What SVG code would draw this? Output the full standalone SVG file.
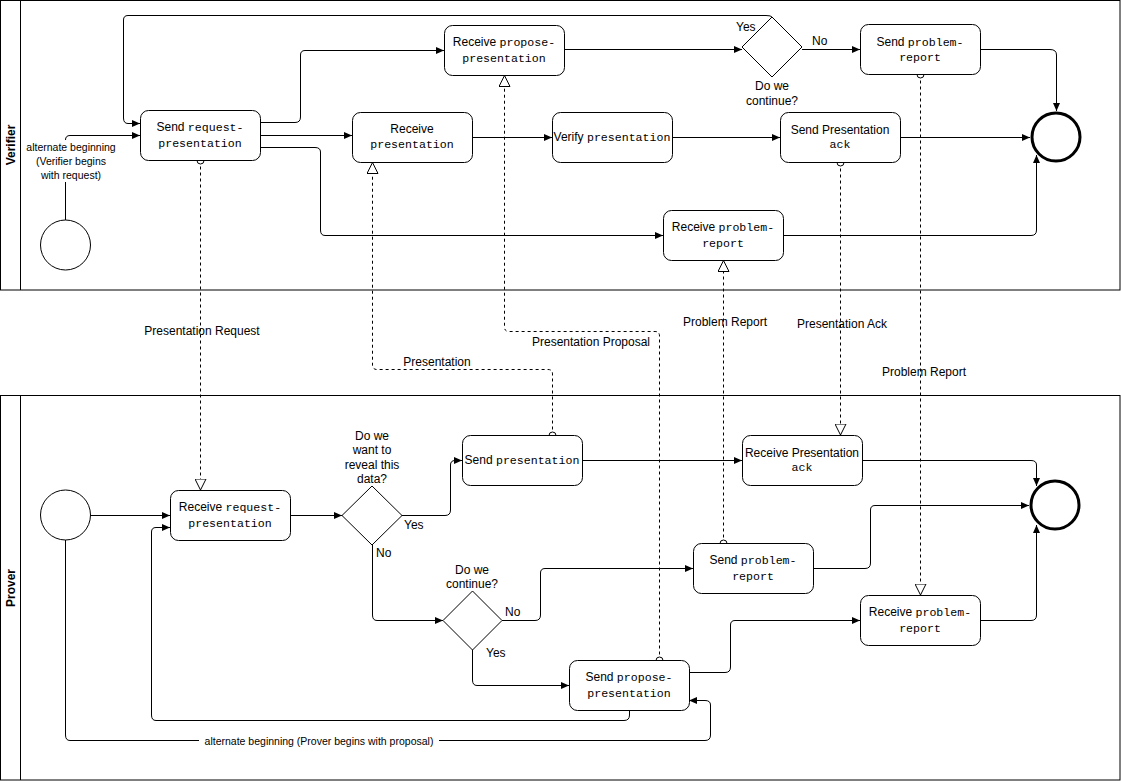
<svg xmlns="http://www.w3.org/2000/svg" width="1121" height="781" viewBox="0 0 1121 781">
<style>
  text { font-family: "Liberation Sans", Arial, sans-serif; font-size: 12px; fill: #000; }
  .m { font-family: "Liberation Mono", "Courier New", monospace; font-size: 11.6px; }
  .c { text-anchor: middle; }
  .small { font-size: 10.5px; }
  .hdr { font-weight: bold; font-size: 12px; }
  .pool { fill: #fff; stroke: #000; stroke-width: 1; }
  .task { fill: #fff; stroke: #000; stroke-width: 1; }
  .gw { fill: #fff; stroke: #000; stroke-width: 1; }
  .start { fill: #fff; stroke: #000; stroke-width: 1; }
  .end { fill: #fff; stroke: #000; stroke-width: 3; }
  .seq { fill: none; stroke: #000; stroke-width: 1; marker-end: url(#arr); }
  .msg { fill: none; stroke: #000; stroke-width: 1; stroke-dasharray: 3 3; marker-start: url(#circ); marker-end: url(#tri); }
</style>
<defs>
  <marker id="arr" viewBox="0 0 10 10" refX="10" refY="5" markerWidth="8" markerHeight="7" markerUnits="userSpaceOnUse" orient="auto" preserveAspectRatio="none">
    <path d="M0,0 L10,5 L0,10 z" fill="#000"/>
  </marker>
  <marker id="tri" viewBox="0 0 12 12" refX="11.5" refY="6" markerWidth="12" markerHeight="12" markerUnits="userSpaceOnUse" orient="auto">
    <path d="M0.5,0.5 L11.5,6 L0.5,11.5 z" fill="#fff" stroke="#000" stroke-width="1"/>
  </marker>
  <marker id="circ" viewBox="0 0 10 10" refX="5" refY="5" markerWidth="10" markerHeight="10" markerUnits="userSpaceOnUse">
    <circle cx="5" cy="5" r="3.5" fill="#fff" stroke="#000" stroke-width="1"/>
  </marker>
</defs>

<rect x="0" y="0" width="1121" height="781" fill="#fff"/>

<!-- Pools -->
<g id="pool-verifier">
  <rect class="pool" x="0.5" y="0.5" width="1119.5" height="289.5"/>
  <line x1="20.5" y1="0.5" x2="20.5" y2="290" stroke="#000"/>
  <text class="hdr c" transform="translate(15,145) rotate(-90)">Verifier</text>
</g>
<g id="pool-prover">
  <rect class="pool" x="0.5" y="395.5" width="1119.5" height="384.5"/>
  <line x1="20.5" y1="395.5" x2="20.5" y2="780" stroke="#000"/>
  <text class="hdr c" transform="translate(15,588) rotate(-90)">Prover</text>
</g>

<!-- Connectors -->
<g id="connectors">
  <!-- Verifier sequence flows -->
  <path class="seq" d="M65.5,220 V140 Q65.5,135.5 70,135.5 H140"/>
  <path class="seq" d="M772,17 Q771,15.5 766,15.5 H128 Q123.5,15.5 123.5,20 V118 Q123.5,123.5 128,123.5 H140"/>
  <path class="seq" d="M260,122.5 H295 Q300.5,122.5 300.5,117 V55 Q300.5,50.5 305,50.5 H444"/>
  <path class="seq" d="M260,135.5 H352"/>
  <path class="seq" d="M260,147.5 H315 Q320.5,147.5 320.5,152 V230 Q320.5,235.5 325,235.5 H663"/>
  <path class="seq" d="M564,49.5 H742"/>
  <path class="seq" d="M802,49.5 H860"/>
  <path class="seq" d="M980,49.5 H1050 Q1056.5,49.5 1056.5,55 V111"/>
  <path class="seq" d="M472,137.5 H552"/>
  <path class="seq" d="M672,137.5 H780"/>
  <path class="seq" d="M900,137.5 H1030"/>
  <path class="seq" d="M783,235.5 H1031 Q1036.5,235.5 1036.5,230 V155"/>

  <!-- Prover sequence flows -->
  <path class="seq" d="M90,515.5 H170"/>
  <path class="seq" d="M290,515.5 H342"/>
  <path class="seq" d="M402,515.5 H445 Q450.5,515.5 450.5,510 V465 Q450.5,460.5 455,460.5 H462"/>
  <path class="seq" d="M372.5,545 V615 Q372.5,620.5 377,620.5 H443"/>
  <path class="seq" d="M502,620.5 H535 Q540.5,620.5 540.5,615 V573 Q540.5,568.5 545,568.5 H693"/>
  <path class="seq" d="M472.5,650 V680 Q472.5,685.5 477,685.5 H569"/>
  <path class="seq" d="M582,460.5 H742"/>
  <path class="seq" d="M862,460.5 H1031 Q1036.5,460.5 1036.5,465 V486"/>
  <path class="seq" d="M813,568.5 H865 Q870.5,568.5 870.5,563 V510 Q870.5,505.5 875,505.5 H1029"/>
  <path class="seq" d="M980,620.5 H1031 Q1036.5,620.5 1036.5,615 V525"/>
  <path class="seq" d="M689,672.5 H725 Q730.5,672.5 730.5,667 V625 Q730.5,620.5 735,620.5 H860"/>
  <path class="seq" d="M629.5,710 V715 Q629.5,720.5 624,720.5 H156 Q151.5,720.5 151.5,715 V532 Q151.5,527.5 156,527.5 H170"/>
  <path class="seq" d="M65.5,540 V735 Q65.5,740.5 70,740.5 H705 Q710.5,740.5 710.5,735 V705 Q710.5,700.5 705,700.5 H689"/>

  <!-- Message flows -->
  <path class="msg" d="M200.5,160.5 V490"/>
  <path class="msg" d="M552.5,435.5 V374 Q552.5,369.5 548,369.5 H377 Q372.5,369.5 372.5,365 V162.5"/>
  <path class="msg" d="M659.5,660.5 V336 Q659.5,331.5 655,331.5 H509 Q504.5,331.5 504.5,327 V75.5"/>
  <path class="msg" d="M723.5,543.5 V260.5"/>
  <path class="msg" d="M840.5,162.5 V435"/>
  <path class="msg" d="M920.5,74.5 V595"/>

  <!-- Connector labels -->
  <rect x="22" y="140" width="98" height="42" fill="#fff"/>
  <text class="small c" x="71" y="151">alternate beginning</text>
  <text class="small c" x="71" y="165">(Verifier begins</text>
  <text class="small c" x="71" y="179">with request)</text>
  <text x="736" y="31">Yes</text>
  <text x="812" y="45">No</text>
  <rect x="199" y="734" width="240" height="13" fill="#fff"/>
  <text class="small c" x="319" y="744.5">alternate beginning (Prover begins with proposal)</text>
  <text x="404" y="529">Yes</text>
  <text x="376" y="557">No</text>
  <text x="505" y="616">No</text>
  <text x="486" y="657">Yes</text>
  <text class="c" x="202" y="335">Presentation Request</text>
  <text class="c" x="437" y="366">Presentation</text>
  <text class="c" x="591" y="346">Presentation Proposal</text>
  <text class="c" x="725" y="326">Problem Report</text>
  <text class="c" x="842" y="328">Presentation Ack</text>
  <text class="c" x="924" y="376">Problem Report</text>
</g>

<!-- Verifier nodes -->
<g id="v-start"><circle class="start" cx="65.5" cy="245" r="25"/></g>
<g id="v-send-request">
  <rect class="task" x="140.5" y="110.5" width="120" height="50" rx="8"/>
  <text class="c" x="200" y="131">Send <tspan class="m">request-</tspan></text>
  <text class="c m" x="200" y="147">presentation</text>
</g>
<g id="v-receive-propose">
  <rect class="task" x="444.5" y="25.5" width="120" height="50" rx="8"/>
  <text class="c" x="504" y="46">Receive <tspan class="m">propose-</tspan></text>
  <text class="c m" x="504" y="62">presentation</text>
</g>
<g id="v-receive-presentation">
  <rect class="task" x="352.5" y="112.5" width="120" height="50" rx="8"/>
  <text class="c" x="412" y="133">Receive</text>
  <text class="c m" x="412" y="148">presentation</text>
</g>
<g id="v-verify">
  <rect class="task" x="552.5" y="112.5" width="120" height="50" rx="8"/>
  <text class="c" x="612" y="141">Verify <tspan class="m">presentation</tspan></text>
</g>
<g id="v-send-ack">
  <rect class="task" x="780.5" y="112.5" width="120" height="50" rx="8"/>
  <text class="c" x="840" y="134">Send Presentation</text>
  <text class="c m" x="840" y="148">ack</text>
</g>
<g id="v-receive-problem">
  <rect class="task" x="663.5" y="210.5" width="120" height="50" rx="8"/>
  <text class="c" x="723" y="231">Receive <tspan class="m">problem-</tspan></text>
  <text class="c m" x="723" y="247">report</text>
</g>
<g id="v-gateway">
  <path class="gw" d="M772,17 L802,47 L772,77 L742,47 z"/>
  <text class="c" x="772" y="90">Do we</text>
  <text class="c" x="772" y="105">continue?</text>
</g>
<g id="v-send-problem">
  <rect class="task" x="860.5" y="24.5" width="120" height="50" rx="8"/>
  <text class="c" x="920" y="46">Send <tspan class="m">problem-</tspan></text>
  <text class="c m" x="920" y="61">report</text>
</g>
<g id="v-end"><circle class="end" cx="1056" cy="137" r="24"/></g>

<!-- Prover nodes -->
<g id="p-start"><circle class="start" cx="65.5" cy="515" r="25"/></g>
<g id="p-receive-request">
  <rect class="task" x="170.5" y="490.5" width="120" height="50" rx="8"/>
  <text class="c" x="230" y="511">Receive <tspan class="m">request-</tspan></text>
  <text class="c m" x="230" y="527">presentation</text>
</g>
<g id="p-gateway-reveal">
  <path class="gw" d="M372,486 L402,515.5 L372,545 L342,515.5 z"/>
  <text class="c" x="372" y="440">Do we</text>
  <text class="c" x="372" y="454">want to</text>
  <text class="c" x="372" y="469">reveal this</text>
  <text class="c" x="372" y="483">data?</text>
</g>
<g id="p-send-presentation">
  <rect class="task" x="462.5" y="435.5" width="120" height="50" rx="8"/>
  <text class="c" x="522" y="464">Send <tspan class="m">presentation</tspan></text>
</g>
<g id="p-gateway-continue">
  <path class="gw" d="M472.5,591 L502,620.5 L472.5,650 L443,620.5 z"/>
  <text class="c" x="472" y="574">Do we</text>
  <text class="c" x="472" y="588">continue?</text>
</g>
<g id="p-send-problem">
  <rect class="task" x="693.5" y="543.5" width="120" height="50" rx="8"/>
  <text class="c" x="753" y="564">Send <tspan class="m">problem-</tspan></text>
  <text class="c m" x="753" y="580">report</text>
</g>
<g id="p-send-propose">
  <rect class="task" x="569.5" y="660.5" width="120" height="50" rx="8"/>
  <text class="c" x="629" y="681">Send <tspan class="m">propose-</tspan></text>
  <text class="c m" x="629" y="697">presentation</text>
</g>
<g id="p-receive-ack">
  <rect class="task" x="742.5" y="435.5" width="120" height="50" rx="8"/>
  <text class="c" x="802" y="457">Receive Presentation</text>
  <text class="c m" x="802" y="471">ack</text>
</g>
<g id="p-receive-problem">
  <rect class="task" x="860.5" y="595.5" width="120" height="50" rx="8"/>
  <text class="c" x="920" y="616">Receive <tspan class="m">problem-</tspan></text>
  <text class="c m" x="920" y="632">report</text>
</g>
<g id="p-end"><circle class="end" cx="1055" cy="505" r="24"/></g>
</svg>
